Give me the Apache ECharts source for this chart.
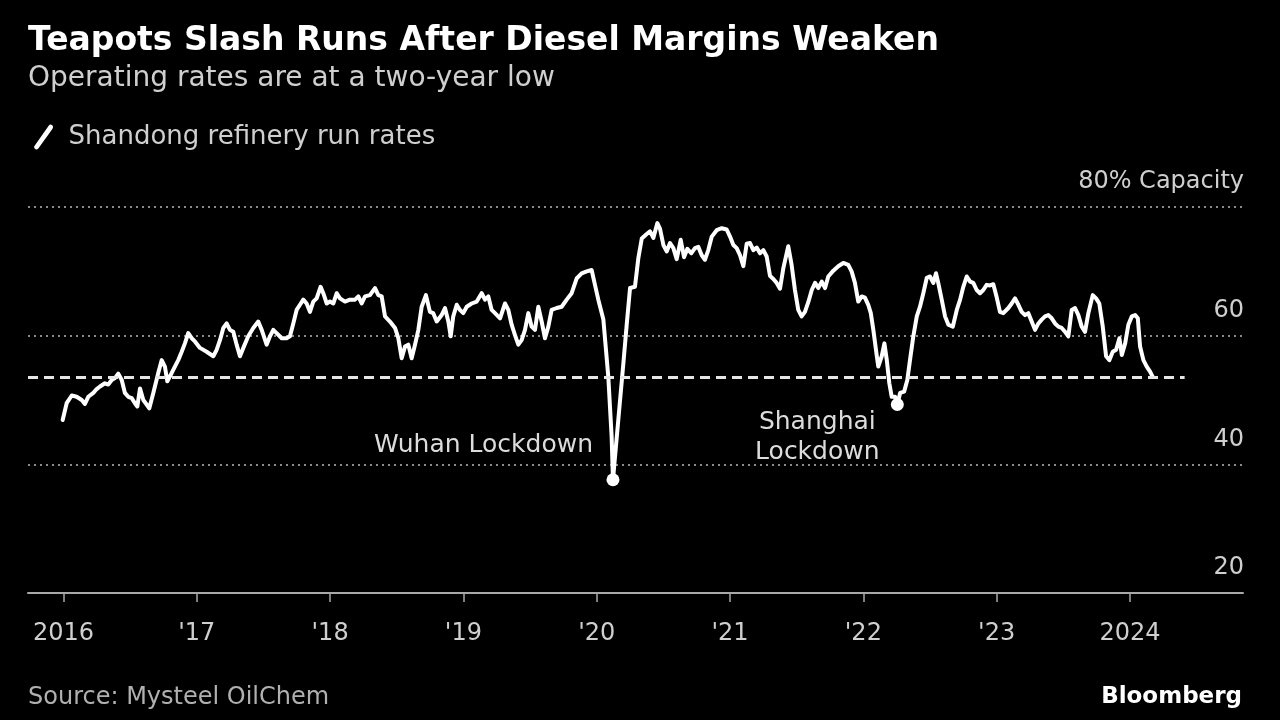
<!DOCTYPE html>
<html>
<head>
<meta charset="utf-8">
<script src="https://cdn.jsdelivr.net/npm/echarts@6/dist/echarts.min.js"></script>
<style>
html,body{margin:0;padding:0;background:#000;}
#chart{width:1280px;height:720px;}
</style>
</head>
<body>
<div id="chart"></div>
<script>
// Decimal years of each reading
const years = [
2015.994,2016.024,2016.062,2016.099,2016.137,2016.161,2016.186,2016.224,2016.249,2016.274,
2016.311,2016.336,2016.362,2016.386,2016.411,2016.437,2016.461,2016.486,2016.512,2016.536,
2016.554,2016.574,2016.599,2016.624,2016.644,2016.674,2016.711,2016.737,2016.761,2016.779,
2016.812,2016.836,2016.861,2016.887,2016.911,2016.936,2016.962,2016.986,2017.024,2017.074,
2017.124,2017.149,2017.174,2017.199,2017.224,2017.249,2017.274,2017.299,2017.324,2017.349,
2017.386,2017.424,2017.461,2017.487,2017.524,2017.549,2017.574,2017.599,2017.637,2017.674,
2017.699,2017.724,2017.749,2017.774,2017.799,2017.824,2017.849,2017.874,2017.899,2017.929,
2017.949,2017.975,2017.999,2018.024,2018.050,2018.074,2018.112,2018.149,2018.187,2018.212,
2018.237,2018.262,2018.299,2018.337,2018.362,2018.387,2018.412,2018.449,2018.487,2018.512,
2018.537,2018.562,2018.587,2018.612,2018.637,2018.662,2018.687,2018.719,2018.749,2018.774,
2018.800,2018.837,2018.862,2018.887,2018.905,2018.924,2018.950,2018.974,2018.999,2019.025,
2019.062,2019.100,2019.137,2019.162,2019.187,2019.212,2019.237,2019.275,2019.312,2019.337,
2019.362,2019.387,2019.412,2019.437,2019.462,2019.487,2019.512,2019.537,2019.562,2019.587,
2019.612,2019.637,2019.662,2019.700,2019.737,2019.775,2019.812,2019.850,2019.887,2019.925,
2019.962,2019.987,2020.012,2020.050,2020.087,2020.112,2020.122,2020.162,2020.200,2020.225,
2020.250,2020.287,2020.312,2020.338,2020.375,2020.400,2020.425,2020.455,2020.475,2020.500,
2020.525,2020.550,2020.575,2020.600,2020.630,2020.655,2020.680,2020.709,2020.737,2020.762,
2020.788,2020.812,2020.837,2020.863,2020.900,2020.938,2020.975,2021.000,2021.025,2021.050,
2021.075,2021.100,2021.125,2021.150,2021.175,2021.200,2021.225,2021.250,2021.275,2021.300,
2021.325,2021.350,2021.375,2021.400,2021.437,2021.462,2021.487,2021.512,2021.537,2021.562,
2021.587,2021.613,2021.638,2021.662,2021.688,2021.713,2021.737,2021.775,2021.812,2021.850,
2021.887,2021.912,2021.937,2021.962,2021.988,2022.012,2022.037,2022.056,2022.075,2022.100,
2022.112,2022.138,2022.158,2022.176,2022.195,2022.213,2022.238,2022.255,2022.276,2022.306,
2022.330,2022.350,2022.375,2022.401,2022.425,2022.450,2022.476,2022.500,2022.525,2022.545,
2022.562,2022.588,2022.613,2022.638,2022.671,2022.701,2022.726,2022.750,2022.776,2022.801,
2022.825,2022.850,2022.875,2022.900,2022.925,2022.950,2022.975,2023.000,2023.025,2023.050,
2023.088,2023.113,2023.138,2023.163,2023.188,2023.213,2023.238,2023.263,2023.288,2023.313,
2023.338,2023.363,2023.388,2023.413,2023.438,2023.463,2023.488,2023.513,2023.538,2023.563,
2023.588,2023.613,2023.638,2023.663,2023.688,2023.721,2023.746,2023.770,2023.796,2023.821,
2023.846,2023.871,2023.896,2023.921,2023.939,2023.964,2023.988,2024.014,2024.039,2024.059,
2024.076,2024.101,2024.126,2024.151,2024.171
];
// Shandong refinery run rates (%)
const rates = [
46.9,49.5,50.7,50.5,50.0,49.4,50.5,51.1,51.7,52.1,
52.6,52.4,53.1,53.4,54.1,53.1,51.1,50.5,50.3,49.5,
49.0,51.8,50.0,49.3,48.7,51.1,54.2,56.2,55.2,52.9,
54.2,55.2,56.2,57.5,58.8,60.4,59.6,59.1,58.1,57.5,
56.8,57.8,59.3,61.2,61.9,60.9,60.6,58.6,56.8,58.1,
59.9,61.2,62.2,60.9,58.6,59.9,60.9,60.4,59.6,59.6,
59.9,61.9,64.0,64.8,65.6,65.0,63.7,65.3,65.8,67.6,
66.6,65.0,65.3,65.0,66.6,65.8,65.3,65.6,65.6,66.1,
65.0,66.1,66.3,67.4,66.3,66.1,63.0,62.2,61.2,59.6,
56.5,58.3,58.6,56.5,58.6,60.9,64.5,66.3,63.7,63.5,
62.2,63.2,64.3,62.2,59.9,63.0,64.8,64.0,63.5,64.5,
65.0,65.3,66.6,65.6,66.1,64.0,63.5,62.7,65.0,64.0,
61.7,60.1,58.6,59.3,60.9,63.5,61.4,60.9,64.5,62.2,
59.6,61.4,64.0,64.3,64.5,65.6,66.6,68.9,69.7,70.0,
70.2,67.9,65.6,62.5,53.6,44.3,37.6,46.9,55.7,61.7,
67.4,67.6,72.0,75.1,75.8,76.2,75.2,77.5,76.6,74.1,
73.1,74.4,73.6,71.9,74.9,72.2,73.5,72.8,73.6,73.8,
72.5,71.8,73.3,75.4,76.4,76.7,76.5,75.4,74.1,73.6,
72.5,70.8,74.3,74.4,73.3,73.7,72.8,73.3,72.3,69.3,
68.8,68.2,67.3,70.5,73.9,71.0,67.1,64.0,63.0,63.7,
65.2,67.1,68.2,67.4,68.4,67.4,69.2,70.1,70.8,71.3,
71.0,70.0,68.2,65.3,66.1,65.9,64.8,63.5,60.9,57.0,
55.2,56.8,58.8,56.2,52.6,50.5,50.5,49.3,51.1,51.3,
53.1,56.2,59.9,63.0,64.5,66.6,69.0,69.2,68.2,69.7,
68.2,65.6,63.0,61.7,61.4,64.0,65.6,67.6,69.2,68.4,
68.2,67.1,66.6,67.1,67.9,67.8,68.0,66.0,63.7,63.5,
64.3,65.0,65.8,64.8,63.7,63.2,63.5,62.2,60.9,61.9,
62.5,63.0,63.2,62.7,61.9,61.4,61.2,60.6,59.9,64.0,
64.3,63.2,61.4,60.6,63.5,66.3,65.8,65.0,61.4,56.8,
56.2,57.5,57.8,59.6,57.0,58.8,61.7,63.0,63.2,62.7,
58.3,56.2,55.2,54.4,53.6
];
const tickYears = [2016, 2017, 2018, 2019, 2020, 2021, 2022, 2023, 2024];
const tickLabels = ['2016', "'17", "'18", "'19", "'20", "'21", "'22", "'23", '2024'];
const lockdownNames = ['Wuhan Lockdown', 'Shanghai\nLockdown'];
const lockdownYears = [2020.122, 2022.255];
const lockdownRates = [37.6, 49.3];
const xMin = 2015.734, xMax = 2024.848;
const dashEndYear = 2024.41;

const FONT = 'DejaVu Sans';
const lineData = years.map((y, i) => [y, rates[i]]);
const lastRate = rates[rates.length - 1];

const chart = echarts.init(document.getElementById('chart'), null, {renderer: 'canvas'});
const option = {
  backgroundColor: '#000',
  animation: false,
  grid: {left: 28, right: 37, top: 207, bottom: 127, containLabel: false},
  legend: {
    left: 29, top: 119,
    itemWidth: 20, itemHeight: 25,
    icon: 'path://M1,21 L15,1 Q16.5,-0.8 18.5,0.8 Q20,2.5 18.5,4.5 L4.5,24 Q2.8,25.8 1,24.2 Q-0.6,22.6 1,21 Z',
    textStyle: {color: '#cfcfcf', fontSize: 26, fontFamily: FONT, padding: [0, 0, 0, 10]},
    data: [{name: 'Shandong refinery run rates', itemStyle: {color: '#fff'}}]
  },
  xAxis: {
    type: 'value', min: xMin, max: xMax,
    axisLine: {show: true, lineStyle: {color: '#a8a8a8', width: 2}},
    axisTick: {show: true, customValues: tickYears, length: 9, lineStyle: {color: '#a8a8a8', width: 1.5}},
    axisLabel: {
      customValues: tickYears, color: '#cfcfcf', fontSize: 24, fontFamily: FONT, margin: 29,
      formatter: v => tickLabels[tickYears.indexOf(Math.round(v))]
    },
    splitLine: {show: false}
  },
  yAxis: {
    type: 'value', min: 20, max: 80, interval: 20, position: 'right',
    axisLine: {show: false}, axisTick: {show: false},
    axisLabel: {
      inside: true, margin: -1, color: '#cfcfcf', fontSize: 24, fontFamily: FONT,
      verticalAlign: 'bottom', padding: [0, 0, 13, 0],
      formatter: v => v === 80 ? '80% Capacity' : String(v)
    },
    splitLine: {show: true, lineStyle: {color: '#8a8a8a', width: 2, type: [2, 4]}}
  },
  series: [
    {
      name: 'Shandong refinery run rates',
      type: 'line', data: lineData, showSymbol: false, z: 3,
      lineStyle: {color: '#fff', width: 4, join: 'round', cap: 'round'},
      itemStyle: {color: '#fff'},
      markLine: {
        silent: true, symbol: ['none', 'none'], label: {show: false},
        lineStyle: {color: '#e6e6e6', width: 3, type: [10, 6]},
        data: [[{coord: [xMin, lastRate]}, {coord: [dashEndYear, lastRate]}]]
      }
    },
    {
      type: 'scatter', z: 4, symbolSize: 13,
      itemStyle: {color: '#fff', opacity: 1},
      data: lockdownYears.map((y, i) => [y, lockdownRates[i]])
    }
  ]
};
chart.setOption(option);

const pW = chart.convertToPixel({gridIndex: 0}, [lockdownYears[0], lockdownRates[0]]);
const pS = chart.convertToPixel({gridIndex: 0}, [lockdownYears[1], lockdownRates[1]]);
chart.setOption({
  graphic: [
    {type: 'text', x: 28, y: 41, style: {text: 'Teapots Slash Runs After Diesel Margins Weaken', fill: '#fff', font: 'bold 33px "DejaVu Sans"', verticalAlign: 'middle'}},
    {type: 'text', x: 28, y: 79, style: {text: 'Operating rates are at a two-year low', fill: '#cfcfcf', font: '28px "DejaVu Sans"', verticalAlign: 'middle'}},
    {type: 'text', x: pW[0] - 20, y: pW[1] - 34, style: {text: lockdownNames[0], fill: '#dcdcdc', font: '25px "DejaVu Sans"', align: 'right', verticalAlign: 'middle'}},
    {type: 'text', x: pS[0] - 80, y: pS[1] + 33, style: {text: lockdownNames[1], fill: '#dcdcdc', font: '25px "DejaVu Sans"', align: 'center', verticalAlign: 'middle', lineHeight: 30}},
    {type: 'text', x: 28, y: 698, style: {text: 'Source: Mysteel OilChem', fill: '#b0b0b0', font: '24px "DejaVu Sans"', verticalAlign: 'middle'}},
    {type: 'text', x: 1242, y: 697, style: {text: 'Bloomberg', fill: '#fff', font: 'bold 23px "DejaVu Sans"', align: 'right', verticalAlign: 'middle'}}
  ]
});
</script>
</body>
</html>
